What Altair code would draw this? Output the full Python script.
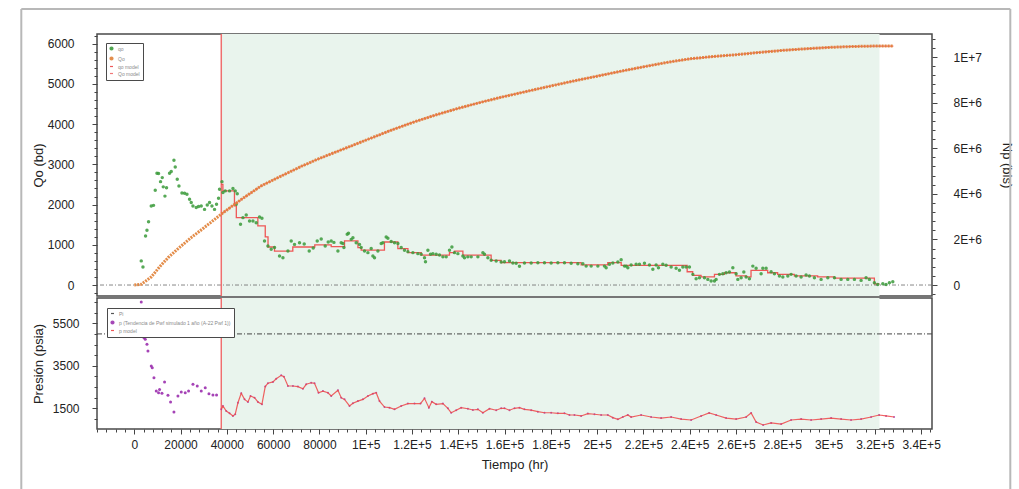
import altair as alt
import pandas as pd

FONT = "Liberation Sans"

# ---------------- oil rate history qo (bd) ----------------
qo_t = [3020, 3760, 4880, 5490, 6180, 7340, 8340, 9070, 9810, 10500, 11360, 12100, 12530, 13260,
        13950, 15250, 15980, 17150, 17710, 18580, 19310, 20610, 21730, 22770, 23890, 24620, 25360,
        26780, 27780, 28940, 30370, 31540, 32530, 33570, 34690, 35550, 36420, 36850, 37890, 38320,
        39310, 41170, 42640, 43630, 44060, 44500, 45920, 46960, 48380, 49810, 51280, 52700, 54130,
        55170, 56290, 57760, 59180, 60610, 62770, 64240, 66400, 67820, 69250, 71410, 73440, 75600,
        77330, 79060, 80780, 82510, 83810, 85100, 86270, 88000, 89420, 90160, 90590, 92020, 92580,
        93740, 94480, 95900, 97330, 98060, 99490, 100960, 102380, 103120, 103810, 105280, 106700,
        107440, 108860, 109600, 111020, 112450, 113920, 115340, 116770, 118240, 120400, 122560,
        123980, 125410, 125840, 126880, 128000, 129040, 130460, 131890, 133360, 134780, 136210,
        137250, 138370, 139840, 142000, 142690, 144130, 145580, 148480, 150640, 151330, 152800,
        154220, 156380, 158540, 159970, 162130, 163600, 165020, 166450, 168610, 171500, 174400,
        177250, 180140, 183040, 185890, 188780, 191680, 193840, 195260, 197420, 200320, 203170,
        203900, 205330, 206800, 208960, 210380, 211810, 212540, 213280, 214700, 216860, 218290,
        220450, 222610, 224080, 225500, 226500, 228400, 229820, 231980, 234140, 235570, 237040,
        238460, 239890, 241360, 242780, 244210, 246370, 247840, 249260, 250690, 251420, 252850,
        254320, 255740, 257170, 258640, 260060, 260800, 262220, 263390, 264380, 265810, 267280,
        268700, 270860, 271600, 273020, 275180, 276610, 278770, 280240, 282400, 283820, 285980,
        288140, 290300, 291730, 293890, 296780, 299680, 302560, 305420, 308310, 311180, 314060,
        316220, 317650, 319810, 321260, 323440, 324860, 326290, 327760]
qo_v = [600, 450, 1220, 1360, 1575, 1965, 1980, 2355, 2780, 2770, 2570, 2670, 2440, 2210,
        2420, 2780, 2820, 3100, 2935, 2630, 2460, 2290, 2280, 2255, 2130, 2050, 1965,
        1925, 1950, 1965, 1880, 1990, 2050, 1965, 1880, 2010, 2155, 2380, 2570, 2300,
        2340, 2340, 2400, 2340, 2010, 2270, 1510, 1675, 1740, 1590, 1590, 1550, 1690,
        1660, 1095, 970, 890, 930, 720, 680, 845, 1095, 1010, 1050, 1020, 845,
        920, 1095, 1145, 970, 1070, 1095, 1060, 845, 1050, 1030, 930, 1260, 1285,
        1135, 1175, 1050, 1010, 930, 845, 805, 910, 720, 680, 845, 1030,
        1050, 1195, 1160, 1080, 1050, 1030, 930, 865, 830, 805, 780,
        765, 680, 580, 865, 765, 780, 765, 745, 700, 700, 865,
        945, 805, 780, 720, 680, 700, 700, 700, 805, 765, 680,
        615, 595, 570, 580, 595, 545, 540, 465, 545, 545, 555,
        555, 545, 555, 555, 540, 530, 530, 470, 470, 470, 470,
        430, 515, 545, 570, 630, 470, 470, 430, 500, 515, 515,
        540, 500, 390, 500, 430, 515, 490, 450, 415, 365, 450,
        450, 450, 265, 155, 180, 180, 140, 100, 100, 140, 265,
        280, 305, 325, 430, 280, 140, 180, 325, 200, 155, 470,
        415, 280, 415, 415, 330, 280, 225, 200, 225, 265, 225,
        200, 250, 225, 180, 140, 180, 180, 140, 140, 140, 115,
        180, 140, 55, 15, 30, 15, 55, 80]

# ---------------- qo model (step) ----------------
qm_t = [37600, 38300, 43300, 44100, 53400, 56600, 57800, 60600, 68500, 78000, 85100, 90850,
        96650, 98060, 108100, 113900, 118250, 124000, 136200, 138350, 142000, 154200, 158500,
        193100, 204600, 210400, 238900, 241300, 244900, 250700, 255000, 260000, 264400, 266500,
        273700, 278000, 285200, 295300, 302500, 319800, 322000]
qm_v = [2500, 2340, 1965, 1675, 1470, 1195, 945, 845, 945, 1000, 955, 1095,
        930, 865, 1070, 905, 805, 745, 805, 845, 745, 615, 555,
        500, 555, 490, 330, 240, 200, 265, 305, 225, 200, 365,
        305, 265, 225, 200, 170, 30, 30]

# ---------------- cumulative oil Np (bls) ----------------
np_t = [0, 3000, 7300, 11000, 14600, 19000, 24600, 30000, 37600, 46200, 54900, 63500, 72100,
        80000, 90000, 100000, 110000, 120000, 130000, 140000, 150000, 160000, 170000, 180000,
        190000, 200000, 210000, 220000, 230000, 240000, 250000, 260000, 270000, 280000, 290000,
        300000, 310000, 320000, 328000]
np_v = [0, 30000, 350000, 800000, 1200000, 1600000, 2080000, 2500000, 3110000, 3750000, 4350000,
        4780000, 5200000, 5550000, 5950000, 6350000, 6750000, 7120000, 7450000, 7750000, 8020000,
        8270000, 8500000, 8730000, 8950000, 9160000, 9370000, 9570000, 9760000, 9920000, 10020000,
        10100000, 10200000, 10290000, 10360000, 10420000, 10460000, 10480000, 10480000]

# ---------------- pressure history before the model (psia) ----------------
ph_t = [3020, 4190, 4750, 5490, 5920, 7340, 7780, 8510, 9500, 10500, 10930, 11970, 13090, 14560,
        15680, 17150, 18880, 20300, 22030, 23460, 25360, 27220, 28940, 30670, 32270, 34000, 35550]
ph_v = [6500, 4820, 4750, 4510, 4200, 3490, 3410, 2940, 2310, 2230, 2390, 2210, 2740, 2110,
        1800, 1330, 2080, 2270, 2230, 2310, 2630, 2550, 2310, 2470, 2190, 2130, 2130]

# ---------------- pressure p and p model from the start of the model ----------------
pm_t = [37600, 38320, 39740, 41170, 42640, 43630, 44800, 46220, 47650, 49120, 50240, 51970, 53440,
        55170, 56590, 57760, 59920, 61340, 63500, 64670, 66400, 68560, 70720, 72880, 74300, 76460,
        77890, 79620, 81520, 83680, 85100, 88000, 89420, 90850, 93010, 94480, 96640, 98800, 100960,
        103120, 104540, 105970, 108130, 110290, 112450, 115340, 118240, 121090, 123680, 125410,
        127310, 128600, 130460, 133360, 135520, 136940, 139100, 141260, 144160, 146320, 148480,
        150640, 153490, 156380, 158540, 159970, 162130, 164290, 166450, 168610, 171500, 174400,
        177250, 180140, 183040, 185890, 188050, 190210, 193100, 195990, 198850, 201740, 204630,
        206800, 208960, 211110, 213270, 214700, 219020, 223340, 227660, 231980, 236300, 240620,
        244940, 248400, 251420, 255740, 260060, 264380, 266540, 268700, 271730, 275180, 279500,
        283820, 288140, 292460, 296780, 301100, 305420, 309740, 314060, 318380, 321840, 324860,
        328320]
pm_v = [1450, 1610, 1370, 1265, 1140, 1220, 1760, 2210, 1920, 1800, 2080, 2000, 1800,
        1690, 2520, 2680, 2740, 2890, 3050, 2990, 2550, 2550, 2520, 2420, 2630, 2700,
        2680, 2230, 2310, 2230, 2080, 2350, 2000, 1920, 1610, 1740, 1840, 1920, 2080,
        2190, 2230, 1840, 1560, 1530, 1450, 1610, 1720, 1720, 1720, 1970,
        1530, 1810, 1690, 1720, 1500, 1290, 1410, 1530, 1480, 1420, 1450,
        1290, 1480, 1410, 1500, 1500, 1410, 1500, 1530, 1450, 1410, 1340,
        1290, 1290, 1265, 1265, 1185, 1185, 1140, 1250, 1220, 1185, 1185,
        1060, 980, 1090, 1185, 1090, 1185, 1090, 1040, 1090, 995, 950,
        1140, 1280, 1185, 1040, 995, 1090, 1280, 855, 715, 810, 760,
        950, 995, 950, 995, 1040, 995, 950, 995, 1090, 1185, 1140,
        1090]

PI = 5000
T_START = 37600
T_END = 322000

TOP_SERIES = ["qo", "Qo", "qo model", "Qo model"]
TOP_COLORS = ["#3a9a3a", "#e07f35", "#ee4646", "#f06a6a"]
TOP_SHAPES = ["circle", "circle", "stroke", "stroke"]
P_LABEL = "p (Tendencia de Pwf simulado 1 año (A-22 Pwf 1))"
BOT_SERIES = ["Pi", P_LABEL, "p model"]
BOT_COLORS = ["#444444", "#9b2fae", "#ee4646"]
BOT_SHAPES = ["stroke", "circle", "stroke"]

SHADE = "#e9f4ed"
VLINE = "#ef6f6f"
W = 835
H_TOP = 262
H_BOT = 131

qo_df = pd.DataFrame({"t": qo_t, "v": qo_v, "series": "qo"})
qm_df = pd.DataFrame({"t": qm_t, "v": qm_v, "series": "qo model"})
np_df = pd.DataFrame({"t": np_t, "v": np_v, "series": "Qo"})
npm_df = np_df[np_df["t"] >= T_START].assign(series="Qo model")
ph_df = pd.DataFrame({"t": ph_t, "v": ph_v, "series": P_LABEL})
pm_df = pd.DataFrame({"t": pm_t, "v": pm_v, "series": "p model"})
pp_df = pm_df.assign(series=P_LABEL)
pi_df = pd.DataFrame({"v": [PI], "series": ["Pi"]})
zero_df = pd.DataFrame({"v": [0]})
span_df = pd.DataFrame({"t0": [T_START], "t1": [T_END]})
one_df = pd.DataFrame({"a": [0]})

x_scale = alt.Scale(domain=[-16100, 344700], nice=False, zero=False)
x_none = alt.X("t:Q", scale=x_scale, axis=None)
x_ticks = list(range(-16000, 344001, 4000))
x_axis = alt.Axis(
    title="Tiempo (hr)", values=x_ticks, labelOverlap=False, labelFlush=False,
    labelExpr="datum.value % 20000 === 0 ? (datum.value >= 100000 ? "
              "upper(format(datum.value, '.2~e')) : format(datum.value, 'd')) : ''",
    tickSize={"condition": {"test": "datum.value % 20000 === 0", "value": 5}, "value": 3},
    labelPadding=5, titlePadding=8,
)
x_bot = alt.X("t:Q", scale=x_scale, axis=x_axis)


def legend(offset):
    return alt.Legend(
        title=None, orient="top-left", offset=offset, padding=3, fillColor="white",
        strokeColor="#4a4a4a", labelFontSize=5, labelColor="#8a8a8a", symbolSize=9,
        symbolStrokeWidth=1.2, rowPadding=1, labelLimit=400, labelOffset=4,
    )


top_color = alt.Color("series:N", scale=alt.Scale(domain=TOP_SERIES, range=TOP_COLORS),
                      legend=legend(9))
top_shape = alt.Shape("series:N", scale=alt.Scale(domain=TOP_SERIES, range=TOP_SHAPES),
                      legend=legend(9))
bot_color = alt.Color("series:N", scale=alt.Scale(domain=BOT_SERIES, range=BOT_COLORS),
                      legend=legend(10))
bot_shape = alt.Shape("series:N", scale=alt.Scale(domain=BOT_SERIES, range=BOT_SHAPES),
                      legend=legend(10))

# ---------------- top panel: qo (left) and Np (right) ----------------
qo_scale = alt.Scale(domain=[-273, 6240], nice=False, zero=False)
qo_axis = alt.Axis(
    title="Qo (bd)", values=list(range(-200, 6201, 200)),
    labelExpr="datum.value % 1000 === 0 ? format(datum.value, 'd') : ''",
    tickSize={"condition": {"test": "datum.value % 1000 === 0", "value": 5}, "value": 3},
    labelPadding=18, minExtent=50, maxExtent=50, titlePadding=2,
    labelOverlap=False, labelFlush=False,
)
y_qo = alt.Y("v:Q", scale=qo_scale, axis=qo_axis)

np_scale = alt.Scale(domain=[-482000, 11009000], nice=False, zero=False)
np_axis = alt.Axis(
    title="Np (bls)", orient="right", titleAngle=90, values=list(range(-400000, 11000001, 400000)),
    labelExpr="datum.value % 2000000 === 0 ? (datum.value === 0 ? '0' : "
              "upper(format(datum.value, '~e'))) : ''",
    tickSize={"condition": {"test": "datum.value % 2000000 === 0", "value": 5}, "value": 3},
    labelPadding=16, minExtent=50, maxExtent=50, titlePadding=17,
    labelOverlap=False, labelFlush=False,
)
y_np = alt.Y("v:Q", scale=np_scale, axis=np_axis)

# light frame around the whole figure
frame_left = alt.Chart(one_df).mark_rule(color="#b8b8b8", strokeWidth=2, clip=False).encode(
    x=alt.value(-75.7), y=alt.value(-25), y2=alt.value(456))
frame_top = alt.Chart(one_df).mark_rule(color="#b8b8b8", strokeWidth=2, clip=False).encode(
    x=alt.value(-75.7), x2=alt.value(913.3), y=alt.value(-25))
frame_right = alt.Chart(one_df).mark_rule(color="#b8b8b8", strokeWidth=2, clip=False).encode(
    x=alt.value(913.3), y=alt.value(-25), y2=alt.value(456))

shade_top = alt.Chart(span_df).mark_rect(color=SHADE).encode(
    x=alt.X("t0:Q", scale=x_scale, axis=None), x2="t1:Q")
zero_line = alt.Chart(zero_df).mark_rule(color="#6a6a6a", strokeWidth=0.8,
                                         strokeDash=[4, 2, 1, 2]).encode(y=y_qo)
vline_top = alt.Chart(span_df).mark_rule(color=VLINE, strokeWidth=1.5).encode(
    x=alt.X("t0:Q", scale=x_scale, axis=None))
qm_line = alt.Chart(qm_df).mark_line(interpolate="step-after", strokeWidth=1.3, opacity=0.9).encode(
    x=x_none, y=y_qo, color=top_color)
qo_pts = alt.Chart(qo_df).mark_point(filled=True, size=12, opacity=0.85).encode(
    x=x_none, y=y_qo, color=top_color, shape=top_shape)

left_group = alt.layer(frame_left, frame_top, frame_right, shade_top, zero_line, vline_top,
                       qm_line, qo_pts)

npm_line = alt.Chart(npm_df).mark_line(strokeWidth=1.2).encode(x=x_none, y=y_np, color=top_color)
np_line = alt.Chart(np_df).mark_line(strokeWidth=3, strokeDash=[2, 1], opacity=0.9).encode(
    x=x_none, y=y_np, color=top_color)
right_group = alt.layer(npm_line, np_line)

top = alt.layer(left_group, right_group).resolve_scale(y="independent").properties(
    width=W, height=H_TOP)

# ---------------- bottom panel: pressure ----------------
p_scale = alt.Scale(domain=[526, 6690], nice=False, zero=False)
p_axis = alt.Axis(
    title="Presión (psia)", values=list(range(1000, 6501, 500)),
    labelExpr="(datum.value - 1500) % 2000 === 0 ? format(datum.value, 'd') : ''",
    tickSize={"condition": {"test": "(datum.value - 1500) % 2000 === 0", "value": 5}, "value": 3},
    labelPadding=13, minExtent=50, maxExtent=50, titlePadding=2,
    labelOverlap=False, labelFlush=False,
)
y_p = alt.Y("v:Q", scale=p_scale, axis=p_axis)

shade_bot = alt.Chart(span_df).mark_rect(color=SHADE).encode(
    x=alt.X("t0:Q", scale=x_scale, axis=x_axis), x2="t1:Q")
pi_line = alt.Chart(pi_df).mark_rule(strokeWidth=1, strokeDash=[5, 2, 1, 2]).encode(
    y=y_p, color=bot_color)
vline_bot = alt.Chart(span_df).mark_rule(color=VLINE, strokeWidth=1.5).encode(
    x=alt.X("t0:Q", scale=x_scale, axis=x_axis))
ph_pts = alt.Chart(ph_df).mark_point(filled=True, size=9, opacity=0.9).encode(
    x=x_bot, y=y_p, color=bot_color, shape=bot_shape)
pp_pts = alt.Chart(pp_df).mark_point(filled=True, size=4, opacity=0.8).encode(
    x=x_bot, y=y_p, color=bot_color, shape=bot_shape)
pm_line = alt.Chart(pm_df).mark_line(strokeWidth=1.2, opacity=0.85).encode(
    x=x_bot, y=y_p, color=bot_color)

bottom = alt.layer(shade_bot, pi_line, vline_bot, ph_pts, pp_pts, pm_line).properties(
    width=W, height=H_BOT)

chart = alt.vconcat(top, bottom, spacing=2, bounds="flush").resolve_scale(
    color="independent", shape="independent"
).resolve_legend(
    color="independent", shape="independent"
).properties(
    padding={"left": 19, "top": 7, "right": 2, "bottom": 0},
    background="white",
).configure_axis(
    labelFont=FONT, titleFont=FONT, labelFontSize=12, titleFontSize=13,
    labelColor="#222222", titleColor="#222222", titleFontWeight="normal",
    tickColor="#444444", domain=False, grid=False,
).configure_view(
    stroke="#4a4a4a", strokeWidth=1.5,
).configure_legend(
    labelFont=FONT,
)

chart.save("out.html", embed_options={"renderer": "svg", "actions": False})
